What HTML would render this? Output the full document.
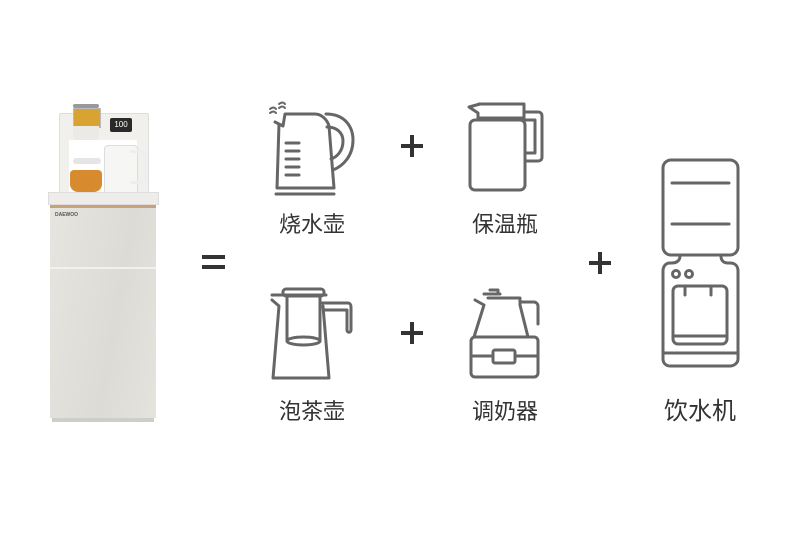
<!DOCTYPE html>
<html><head><meta charset="utf-8"><style>
body{margin:0;background:#fff;width:790px;height:550px;overflow:hidden;position:relative;font-family:"Liberation Sans","Noto Sans CJK SC",sans-serif}
.t{position:absolute;color:#333;font-size:22px;transform:translateX(-50%);white-space:nowrap;line-height:1}
.a{position:absolute}
</style></head><body>
<!-- product -->
<div class="a" style="left:59px;top:113px;width:88px;height:80px;background:#f1f0ec;border:1px solid #ddd;border-radius:2px"></div>
<div class="a" style="left:69px;top:140px;width:68px;height:55px;background:#fff"></div>
<div class="a" style="left:110px;top:118px;width:22px;height:14px;background:#2a2a2a;border-radius:2px;color:#fff;font-size:8px;line-height:14px;text-align:center">100</div>
<div class="a" style="left:73px;top:104px;width:26px;height:4px;background:#999;border-radius:2px"></div>
<div class="a" style="left:73px;top:108px;width:26px;height:18px;background:#d9a332;border:1px solid #bbb"></div>
<div class="a" style="left:73px;top:126px;width:26px;height:14px;background:#eceae6;border-radius:0 0 4px 4px"></div>
<div class="a" style="left:104px;top:145px;width:32px;height:47px;background:#f6f6f4;border:1px solid #ddd;border-radius:4px 4px 2px 2px"></div>
<div class="a" style="left:130px;top:150px;width:14px;height:28px;border:3px solid #eee;border-left:none;border-radius:0 8px 8px 0"></div>
<div class="a" style="left:73px;top:158px;width:28px;height:6px;background:#e5e5e5;border-radius:3px"></div>
<div class="a" style="left:70px;top:170px;width:32px;height:22px;background:#d88a2e;border-radius:4px 4px 8px 8px"></div>
<div class="a" style="left:48px;top:192px;width:111px;height:13px;background:#eeede9;border:1px solid #ddd;box-sizing:border-box"></div>
<div class="a" style="left:50px;top:205px;width:106px;height:3px;background:#c9a27a"></div>
<div class="a" style="left:50px;top:208px;width:106px;height:210px;background:linear-gradient(100deg,#e6e5e0,#dcdbd6 60%,#e4e3de)"></div>
<div class="a" style="left:50px;top:267px;width:106px;height:2px;background:#f2f1ee"></div>
<div class="a" style="left:55px;top:212px;font-size:5px;color:#555;font-weight:bold">DAEWOO</div>
<div class="a" style="left:52px;top:418px;width:102px;height:4px;background:#cfcdc8"></div>
<!-- equals -->
<div class="a" style="left:202px;top:255px;width:23px;height:4px;background:#333"></div>
<div class="a" style="left:202px;top:265px;width:23px;height:4px;background:#333"></div>
<svg class="a" style="left:0;top:0" width="790" height="550" fill="none" stroke="#666" stroke-width="3" stroke-linecap="round" stroke-linejoin="round">
<g stroke="#333" stroke-width="4" stroke-linecap="butt">
<path d="M401 146h22M412 135v22M401 333h22M412 322v22M589 263h22M600 252v22"/>
</g>
<!-- kettle -->
<path d="M270 109c3-2 4-2 6 0M270 113c3-2 4-2 6 0M279 104c3-2 4-2 6 0M279 108c3-2 4-2 6 0" stroke-width="2"/>
<path d="M275 122l8 4 2 -12 h30 c6 0 12 5 14 12 l5 62 h-57 l2 -64z"/>
<path d="M326 114c20 0 27 14 27 26 c0 16-10 26-20 30"/>
<path d="M327 127c10 0 16 6 16 14 c0 10-6 16-12 18"/>
<path d="M276 194h58M286 143h13M286 151h13M286 159h13M286 167h13M286 175h13"/>
<!-- thermos -->
<path d="M469 107l9 6 v5 h46 v-14 h-44 z"/>
<path d="M479 104h24"/>
<rect x="470" y="120" width="55" height="70" rx="5"/>
<path d="M525 112h13 c3 0 4 2 4 4 v41 c0 3-2 4-4 4 h-13 M525 120h10 v33 h-10"/>
<!-- teapot -->
<path d="M272 295h54 M272 300l7 6 -6 72 h56 l-6 -72"/>
<rect x="283" y="289" width="41" height="7" rx="3"/>
<path d="M287 296v45 M320 296v45"/>
<ellipse cx="303.5" cy="341" rx="16.5" ry="4"/>
<path d="M322 303h26 c2 0 3 2 3 4 v23 c0 3-4 3-4 0 v-20 h-23"/>
<!-- milk warmer -->
<path d="M484 294h16 M490 290h8 v4"/>
<path d="M475 300l9 5 -10 32 h54 l-8 -32 v-7 h-26 M488 298h30 M520 302h14 c2 0 4 2 4 4 v18"/>
<rect x="471" y="337" width="67" height="40" rx="4"/>
<rect x="493" y="350" width="22" height="13" rx="2"/>
<path d="M471 356h22 M515 356h23"/>
<!-- dispenser -->
<rect x="663" y="160" width="75" height="95" rx="8"/>
<path d="M672 183h57M672 224h57"/>
<path d="M680 256c0 5-4 7-8 7 h-2 c-4 0-7 3-7 8 v88 c0 4 3 7 7 7 h60 c4 0 8-3 8-7 v-88 c0-5-3-8-8-8 h-2 c-4 0-7-2-7-7"/>
<circle cx="676" cy="274" r="3.5"/><circle cx="689" cy="274" r="3.5"/>
<rect x="673" y="286" width="54" height="58" rx="5"/>
<path d="M673 336h54 M663 353h75 M685 286v9 M711 286v9"/>
</svg>
<div class="t" style="left:312px;top:214px">烧水壶</div>
<div class="t" style="left:505px;top:214px">保温瓶</div>
<div class="t" style="left:312px;top:401px">泡茶壶</div>
<div class="t" style="left:505px;top:401px">调奶器</div>
<div class="t" style="left:700px;top:400px;font-size:24px">饮水机</div>
</body></html>
